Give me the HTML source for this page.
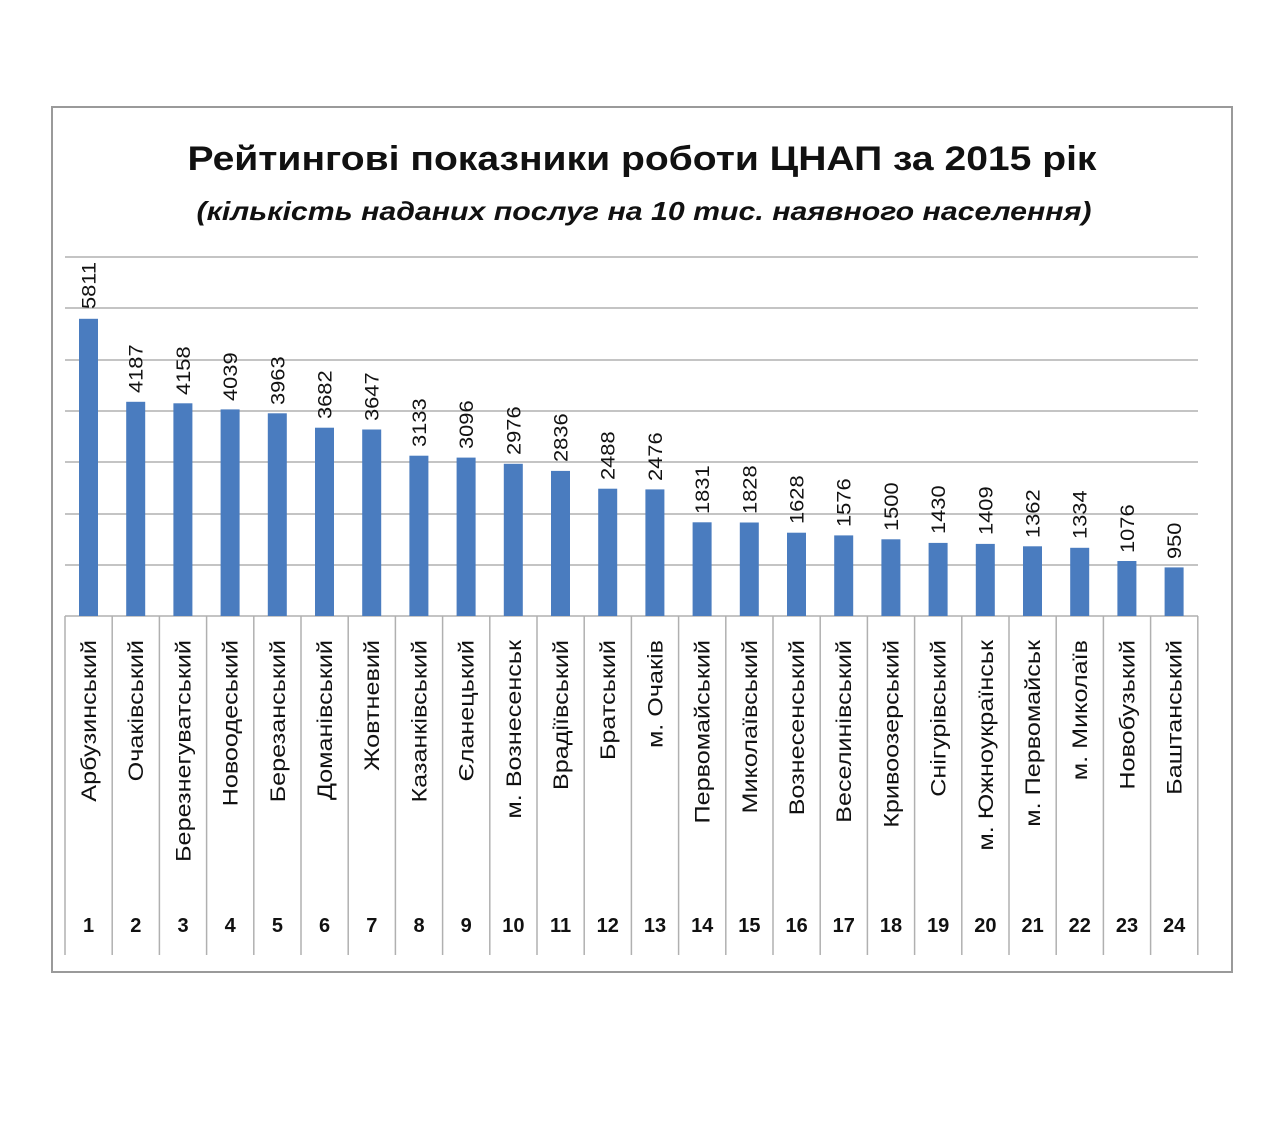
<!DOCTYPE html>
<html><head><meta charset="utf-8"><style>
body{margin:0;background:#fff}
svg text{font-family:"Liberation Sans","DejaVu Sans",sans-serif;fill:#111}
</style></head><body>
<svg width="1280" height="1117" viewBox="0 0 1280 1117" xmlns="http://www.w3.org/2000/svg">
<rect x="52" y="107" width="1180" height="865" fill="#fff" stroke="#9a9a9a" stroke-width="2"/>
<text x="642" y="170" text-anchor="middle" font-size="34" font-weight="bold" textLength="909" lengthAdjust="spacingAndGlyphs">Рейтингові показники роботи ЦНАП за 2015 рік</text>
<text x="644" y="220" text-anchor="middle" font-size="26" font-weight="bold" font-style="italic" textLength="895" lengthAdjust="spacingAndGlyphs">(кількість  наданих послуг на 10 тис. наявного населення)</text>
<g stroke="#b0b0b0" stroke-width="1.5">
<line x1="65" y1="257" x2="1198" y2="257"/><line x1="65" y1="308" x2="1198" y2="308"/>
<line x1="65" y1="360" x2="1198" y2="360"/><line x1="65" y1="411" x2="1198" y2="411"/>
<line x1="65" y1="462" x2="1198" y2="462"/><line x1="65" y1="514" x2="1198" y2="514"/>
<line x1="65" y1="565" x2="1198" y2="565"/><line x1="65" y1="616" x2="1198" y2="616"/>
<line x1="65" y1="616" x2="65" y2="955"/><line x1="112.2" y1="616" x2="112.2" y2="955"/><line x1="159.4" y1="616" x2="159.4" y2="955"/><line x1="206.6" y1="616" x2="206.6" y2="955"/><line x1="253.8" y1="616" x2="253.8" y2="955"/><line x1="301" y1="616" x2="301" y2="955"/><line x1="348.2" y1="616" x2="348.2" y2="955"/><line x1="395.4" y1="616" x2="395.4" y2="955"/><line x1="442.6" y1="616" x2="442.6" y2="955"/><line x1="489.8" y1="616" x2="489.8" y2="955"/><line x1="537" y1="616" x2="537" y2="955"/><line x1="584.2" y1="616" x2="584.2" y2="955"/><line x1="631.4" y1="616" x2="631.4" y2="955"/><line x1="678.6" y1="616" x2="678.6" y2="955"/><line x1="725.8" y1="616" x2="725.8" y2="955"/><line x1="773" y1="616" x2="773" y2="955"/><line x1="820.2" y1="616" x2="820.2" y2="955"/><line x1="867.4" y1="616" x2="867.4" y2="955"/><line x1="914.6" y1="616" x2="914.6" y2="955"/><line x1="961.8" y1="616" x2="961.8" y2="955"/><line x1="1009" y1="616" x2="1009" y2="955"/><line x1="1056.2" y1="616" x2="1056.2" y2="955"/><line x1="1103.4" y1="616" x2="1103.4" y2="955"/><line x1="1150.6" y1="616" x2="1150.6" y2="955"/><line x1="1197.8" y1="616" x2="1197.8" y2="955"/>
</g>
<g fill="#4a7cbf">
<rect x="79" y="318.8" width="19" height="297.2"/><rect x="126.2" y="401.8" width="19" height="214.2"/><rect x="173.4" y="403.3" width="19" height="212.7"/><rect x="220.6" y="409.4" width="19" height="206.6"/><rect x="267.8" y="413.3" width="19" height="202.7"/><rect x="315" y="427.7" width="19" height="188.3"/><rect x="362.2" y="429.5" width="19" height="186.5"/><rect x="409.4" y="455.7" width="19" height="160.3"/><rect x="456.6" y="457.6" width="19" height="158.4"/><rect x="503.8" y="463.8" width="19" height="152.2"/><rect x="551" y="470.9" width="19" height="145.1"/><rect x="598.2" y="488.7" width="19" height="127.3"/><rect x="645.4" y="489.4" width="19" height="126.6"/><rect x="692.6" y="522.3" width="19" height="93.7"/><rect x="739.8" y="522.5" width="19" height="93.5"/><rect x="787" y="532.7" width="19" height="83.3"/><rect x="834.2" y="535.4" width="19" height="80.6"/><rect x="881.4" y="539.3" width="19" height="76.7"/><rect x="928.6" y="542.9" width="19" height="73.1"/><rect x="975.8" y="543.9" width="19" height="72.1"/><rect x="1023" y="546.3" width="19" height="69.7"/><rect x="1070.2" y="547.8" width="19" height="68.2"/><rect x="1117.4" y="561" width="19" height="55"/><rect x="1164.6" y="567.4" width="19" height="48.6"/>
</g>
<g font-size="19">
<text transform="translate(95.5,309) rotate(-90) scale(1.15,1)">5811</text>
<text transform="translate(142.7,393) rotate(-90) scale(1.15,1)">4187</text>
<text transform="translate(189.9,395) rotate(-90) scale(1.15,1)">4158</text>
<text transform="translate(237.1,401) rotate(-90) scale(1.15,1)">4039</text>
<text transform="translate(284.3,405) rotate(-90) scale(1.15,1)">3963</text>
<text transform="translate(331.5,419) rotate(-90) scale(1.15,1)">3682</text>
<text transform="translate(378.7,421) rotate(-90) scale(1.15,1)">3647</text>
<text transform="translate(425.9,447) rotate(-90) scale(1.15,1)">3133</text>
<text transform="translate(473.1,449) rotate(-90) scale(1.15,1)">3096</text>
<text transform="translate(520.3,455) rotate(-90) scale(1.15,1)">2976</text>
<text transform="translate(567.5,462) rotate(-90) scale(1.15,1)">2836</text>
<text transform="translate(614.7,480) rotate(-90) scale(1.15,1)">2488</text>
<text transform="translate(661.9,481) rotate(-90) scale(1.15,1)">2476</text>
<text transform="translate(709.1,514) rotate(-90) scale(1.15,1)">1831</text>
<text transform="translate(756.3,514) rotate(-90) scale(1.15,1)">1828</text>
<text transform="translate(803.5,524) rotate(-90) scale(1.15,1)">1628</text>
<text transform="translate(850.7,527) rotate(-90) scale(1.15,1)">1576</text>
<text transform="translate(897.9,531) rotate(-90) scale(1.15,1)">1500</text>
<text transform="translate(945.1,534) rotate(-90) scale(1.15,1)">1430</text>
<text transform="translate(992.3,535) rotate(-90) scale(1.15,1)">1409</text>
<text transform="translate(1039.5,538) rotate(-90) scale(1.15,1)">1362</text>
<text transform="translate(1086.7,539) rotate(-90) scale(1.15,1)">1334</text>
<text transform="translate(1133.9,553) rotate(-90) scale(1.15,1)">1076</text>
<text transform="translate(1181.1,559) rotate(-90) scale(1.15,1)">950</text>
</g>
<g font-size="21" text-anchor="end">
<text transform="translate(96,640) rotate(-90) scale(1.2,1)">Арбузинський</text>
<text transform="translate(143.2,640) rotate(-90) scale(1.2,1)">Очаківський</text>
<text transform="translate(190.4,640) rotate(-90) scale(1.2,1)">Березнегуватський</text>
<text transform="translate(237.6,640) rotate(-90) scale(1.2,1)">Новоодеський</text>
<text transform="translate(284.8,640) rotate(-90) scale(1.2,1)">Березанський</text>
<text transform="translate(332,640) rotate(-90) scale(1.2,1)">Доманівський</text>
<text transform="translate(379.2,640) rotate(-90) scale(1.2,1)">Жовтневий</text>
<text transform="translate(426.4,640) rotate(-90) scale(1.2,1)">Казанківський</text>
<text transform="translate(473.6,640) rotate(-90) scale(1.2,1)">Єланецький</text>
<text transform="translate(520.8,640) rotate(-90) scale(1.2,1)">м. Вознесенськ</text>
<text transform="translate(568,640) rotate(-90) scale(1.2,1)">Врадіївський</text>
<text transform="translate(615.2,640) rotate(-90) scale(1.2,1)">Братський</text>
<text transform="translate(662.4,640) rotate(-90) scale(1.2,1)">м. Очаків</text>
<text transform="translate(709.6,640) rotate(-90) scale(1.2,1)">Первомайський</text>
<text transform="translate(756.8,640) rotate(-90) scale(1.2,1)">Миколаївський</text>
<text transform="translate(804,640) rotate(-90) scale(1.2,1)">Вознесенський</text>
<text transform="translate(851.2,640) rotate(-90) scale(1.2,1)">Веселинівський</text>
<text transform="translate(898.4,640) rotate(-90) scale(1.2,1)">Кривоозерський</text>
<text transform="translate(945.6,640) rotate(-90) scale(1.2,1)">Снігурівський</text>
<text transform="translate(992.8,640) rotate(-90) scale(1.2,1)">м. Южноукраїнськ</text>
<text transform="translate(1040,640) rotate(-90) scale(1.2,1)">м. Первомайськ</text>
<text transform="translate(1087.2,640) rotate(-90) scale(1.2,1)">м. Миколаїв</text>
<text transform="translate(1134.4,640) rotate(-90) scale(1.2,1)">Новобузький</text>
<text transform="translate(1181.6,640) rotate(-90) scale(1.2,1)">Баштанський</text>
</g>
<g font-size="20" font-weight="bold" text-anchor="middle">
<text x="88.6" y="932">1</text><text x="135.8" y="932">2</text><text x="183" y="932">3</text><text x="230.2" y="932">4</text><text x="277.4" y="932">5</text><text x="324.6" y="932">6</text><text x="371.8" y="932">7</text><text x="419" y="932">8</text><text x="466.2" y="932">9</text><text x="513.4" y="932">10</text><text x="560.6" y="932">11</text><text x="607.8" y="932">12</text><text x="655" y="932">13</text><text x="702.2" y="932">14</text><text x="749.4" y="932">15</text><text x="796.6" y="932">16</text><text x="843.8" y="932">17</text><text x="891" y="932">18</text><text x="938.2" y="932">19</text><text x="985.4" y="932">20</text><text x="1032.6" y="932">21</text><text x="1079.8" y="932">22</text><text x="1127" y="932">23</text><text x="1174.2" y="932">24</text>
</g>
</svg>
</body></html>
